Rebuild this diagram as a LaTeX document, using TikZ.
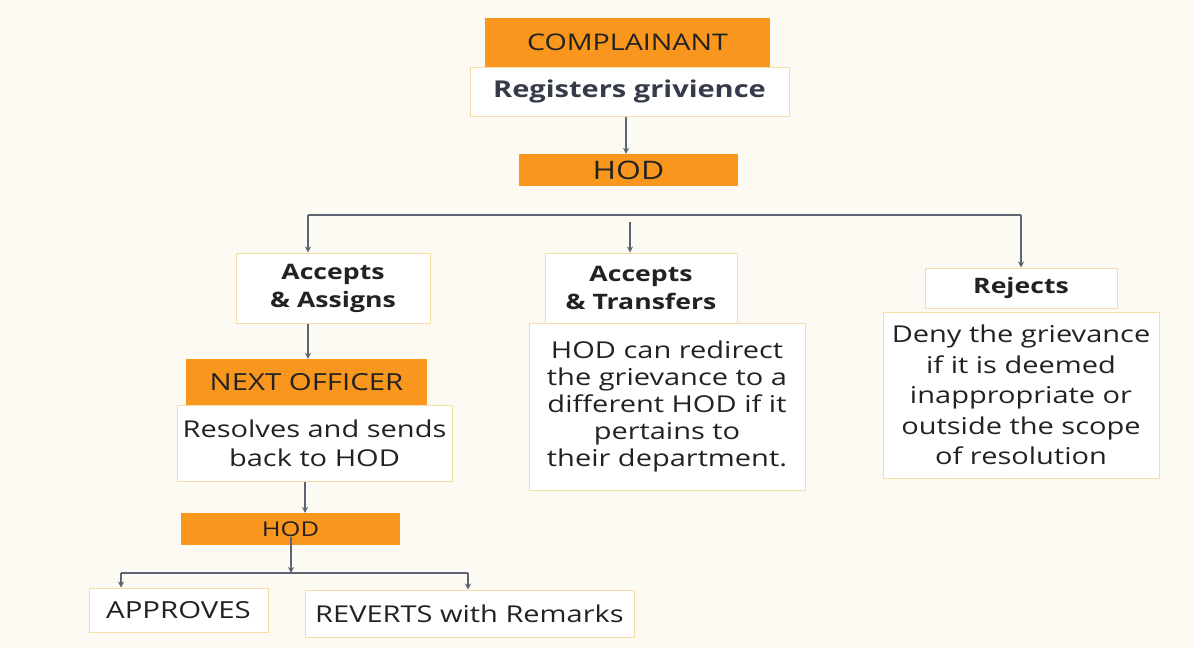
\documentclass[tikz,border=0pt]{standalone}
\usepackage{fontspec}
\setmainfont{Open Sans}[FakeStretch=1.25]
\usetikzlibrary{arrows.meta,calc}
\definecolor{pagebg}{HTML}{FDFAF4}
\definecolor{orangefill}{HTML}{F8961D}
\definecolor{paleedge}{HTML}{F6DCA6}
\definecolor{inkdark}{HTML}{222222}
\definecolor{slate}{HTML}{353B48}
\definecolor{wire}{HTML}{5C6371}
\tikzset{
  orangebox/.style={fill=orangefill, draw=none, inner sep=0pt, text=inkdark, align=center},
  whitebox/.style={fill=white, draw=paleedge, line width=1pt, inner sep=0pt, text=inkdark, align=center},
  wirearrow/.style={draw=wire, line width=1.6pt, -{Stealth[length=6pt,width=6pt]}},
  wireline/.style={draw=wire, line width=1.6pt},
  sz/.style={font=\fontsize{#1}{27}\selectfont},
  bsz/.style={font=\fontsize{#1}{28}\selectfont\bfseries}
}
\begin{document}
\begin{tikzpicture}[x=1pt,y=-1pt]
\fill[pagebg] (0,0) rectangle (1194,648);
\useasboundingbox (0,0) rectangle (1194,648);

% top of the chart
\node[orangebox, minimum width=285pt, minimum height=49pt, sz=22.9] (compl) at (627.5,42.5) {COMPLAINANT};
\node[whitebox, minimum width=319pt, minimum height=49pt, text=slate, bsz=23.2] (reg) at (629.5,91.5) {Registers grivience};
\node[orangebox, minimum width=219pt, minimum height=32pt, sz=25.5] (hodA) at (628.5,170) {HOD};

% three outcomes
\node[whitebox, minimum width=194pt, minimum height=70pt, bsz=21.3] (accA) at (333,288) {Accepts\\\& Assigns};
\node[whitebox, minimum width=192pt, minimum height=70pt, bsz=21.3] (accT) at (641,288) {Accepts\\\& Transfers};
\node[whitebox, minimum width=192pt, minimum height=40pt, bsz=21.3] (rej) at (1021,288) {Rejects};

\node[whitebox, minimum width=276pt, minimum height=167pt, sz=23.2] (redir) at (667,406.5)
  {HOD can redirect\\the grievance to a\\different HOD if it\\pertains to\\their department.};
\node[whitebox, minimum width=276pt, minimum height=166pt, font=\fontsize{23.2}{30.5}\selectfont] (deny) at (1021,395)
  {Deny the grievance\\if it is deemed\\inappropriate or\\outside the scope\\of resolution};

% assigned branch
\node[orangebox, minimum width=241pt, minimum height=46pt, sz=23.5] (next) at (306.5,382) {NEXT OFFICER};
\node[whitebox, minimum width=275pt, minimum height=76pt, font=\fontsize{23.2}{29}\selectfont] (res) at (314.5,443) {Resolves and sends\\back to HOD};
\node[orangebox, minimum width=219pt, minimum height=32pt, sz=20.4] (hodB) at (290.5,529) {HOD};
\node[whitebox, minimum width=179pt, minimum height=44pt, sz=23.5] (appr) at (178.5,610) {APPROVES};
\node[whitebox, minimum width=329pt, minimum height=47pt, sz=23.2] (rev) at (469.5,613.5) {REVERTS with Remarks};

% junction points of the connectors
\coordinate (jL) at (308,215);
\coordinate (jR) at (1021,215);
\coordinate (jM) at (630,222);
\coordinate (bL) at (121,573);
\coordinate (bR) at (468,573);
\coordinate (bM) at (291,573);
\coordinate (bTop) at (291,537);

% connectors
\draw[wirearrow] (reg.south -| 626,0) -- (hodA.north -| 626,0);
\draw[wireline] (jL) -- (jR);
\draw[wirearrow] (jL) -- (jL |- accA.north);
\draw[wirearrow] (jM) -- (jM |- accT.north);
\draw[wirearrow] (jR) -- (rej.north);
\draw[wirearrow] (accA.south -| 308,0) -- (next.north -| 308,0);
\draw[wirearrow] (res.south -| 305,0) -- (hodB.north -| 305,0);
\draw[wirearrow] (bTop) -- (bM);
\draw[wireline] (bL) -- (bR);
\draw[wirearrow] (bL) -- (bL |- appr.north);
\draw[wirearrow] (bR) -- (bR |- rev.north);
\end{tikzpicture}
\end{document}
